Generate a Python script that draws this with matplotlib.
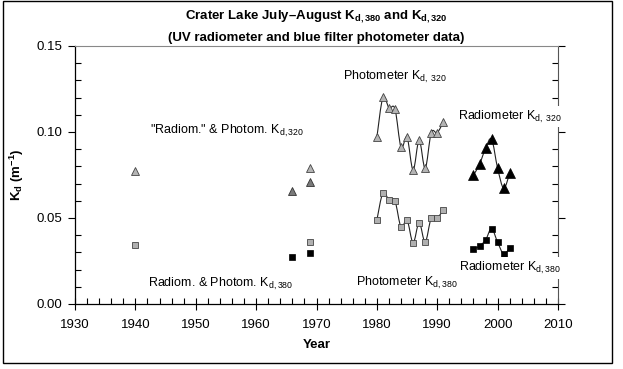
import matplotlib as mpl
mpl.use('Agg')
import matplotlib.pyplot as plt
import numpy as np
from matplotlib.path import Path
from matplotlib.patches import PathPatch, Rectangle
from matplotlib.ticker import MultipleLocator, FormatStrFormatter

plt.rcParams['font.family'] = ['Liberation Sans', 'DejaVu Sans']
plt.rcParams['mathtext.fontset'] = 'custom'
plt.rcParams['mathtext.rm'] = 'Liberation Sans'
plt.rcParams['mathtext.it'] = 'Liberation Sans:italic'
plt.rcParams['mathtext.bf'] = 'Liberation Sans:bold'

# early sparse measurements
early_phot_years = [1940, 1969]
early_phot_320 = [0.0775, 0.0789]
early_phot_380 = [0.0345, 0.0362]
early_rad_years = [1966, 1969]
early_rad_320 = [0.0659, 0.0708]
early_rad_380 = [0.0272, 0.0295]

# photometer series 1980-1991
phot_years = [1980, 1981, 1982, 1983, 1984, 1985, 1986, 1987, 1988, 1989, 1990, 1991]
phot_320 = [0.0969, 0.1202, 0.1141, 0.1134, 0.0911, 0.0969, 0.0779, 0.0953, 0.0789, 0.0996, 0.0996, 0.1058]
phot_380 = [0.0488, 0.0647, 0.0605, 0.0599, 0.0446, 0.0488, 0.0356, 0.0473, 0.0360, 0.0500, 0.0500, 0.0548]

# radiometer series 1996-2002
rad_years = [1996, 1997, 1998, 1999, 2000, 2001, 2002]
rad_320 = [0.0750, 0.0812, 0.0905, 0.0958, 0.0789, 0.0673, 0.0760]
rad_380 = [0.0318, 0.0337, 0.0372, 0.0438, 0.0359, 0.0291, 0.0327]


def smooth_path(xs, ys):
    # excel-like smoothed line (catmull-rom as cubic bezier)
    pts = np.column_stack([xs, ys]).astype(float)
    verts = [pts[0]]
    codes = [Path.MOVETO]
    for i in range(len(pts) - 1):
        p0 = pts[i - 1] if i > 0 else pts[i]
        p3 = pts[i + 2] if i + 2 < len(pts) else pts[i + 1]
        c1 = pts[i] + (pts[i + 1] - p0) / 6.0
        c2 = pts[i + 1] - (p3 - pts[i]) / 6.0
        verts += [c1, c2, pts[i + 1]]
        codes += [Path.CURVE4] * 3
    return Path(verts, codes)


fig = plt.figure(figsize=(6.23, 3.69), dpi=100)
ax = fig.add_axes([75/623, 1 - 304/369, (558-75)/623, (304-46)/369])

line_kw = dict(fill=False, lw=0.8, edgecolor='#222222', zorder=2)
for xs, ys in [(phot_years, phot_320), (phot_years, phot_380),
               (rad_years, rad_320), (rad_years, rad_380)]:
    ax.add_patch(PathPatch(smooth_path(xs, ys), **line_kw))

tri_light = dict(marker='^', ls='none', ms=6, mfc='#b4b4b4', mec='#444444', mew=0.6, zorder=3)
tri_dark = dict(marker='^', ls='none', ms=6, mfc='#7a7a7a', mec='#333333', mew=0.6, zorder=3)
tri_black = dict(marker='^', ls='none', ms=6.5, mfc='black', mec='black', mew=0.5, zorder=3)
sq_gray = dict(marker='s', ls='none', ms=5, mfc='#b0b0b0', mec='#444444', mew=0.6, zorder=3)
sq_black = dict(marker='s', ls='none', ms=4.5, mfc='black', mec='black', mew=0.5, zorder=3)

ax.plot(early_phot_years, early_phot_320, **tri_light)
ax.plot(early_rad_years, early_rad_320, **tri_dark)
ax.plot(early_phot_years, early_phot_380, **sq_gray)
ax.plot(early_rad_years, early_rad_380, **sq_black)
ax.plot(phot_years, phot_320, **tri_light)
ax.plot(phot_years, phot_380, **sq_gray)
ax.plot(rad_years, rad_320, **tri_black)
ax.plot(rad_years, rad_380, **sq_black)

ax.set_xlim(1930, 2010)
ax.set_ylim(0, 0.15)
ax.xaxis.set_major_locator(MultipleLocator(10))
ax.xaxis.set_minor_locator(MultipleLocator(2))
ax.yaxis.set_major_locator(MultipleLocator(0.05))
ax.yaxis.set_minor_locator(MultipleLocator(0.01))
ax.yaxis.set_major_formatter(FormatStrFormatter('%.2f'))

ax.tick_params(axis='x', which='major', direction='inout', length=9, width=0.8, labelsize=9.5, pad=6)
ax.tick_params(axis='x', which='minor', direction='in', length=4, width=0.8)
ax.tick_params(axis='y', which='major', direction='out', length=5, width=0.8, labelsize=9.5,
               right=True, pad=4)
ax.tick_params(axis='y', which='minor', direction='in', length=4, width=0.8, right=True)

ax.spines['top'].set_color('#888888')
ax.spines['right'].set_color('#555555')
for s in ['left', 'bottom']:
    ax.spines[s].set_linewidth(0.9)

sub = dict(fontsize=9, zorder=5)
ax.text(1974.4, 0.132, r'Photometer K$\mathregular{_{d,\ 320}}$', va='center', **sub)
ax.text(1942.4, 0.1006, r'"Radiom." & Photom. K$\mathregular{_{d,320}}$', va='center', **sub)
ax.text(1942.1, 0.0116, r'Radiom. & Photom. K$\mathregular{_{d,380}}$', va='center', **sub)
ax.text(1976.5, 0.0122, r'Photometer K$\mathregular{_{d,380}}$', va='center', **sub)
ax.text(1993.4, 0.109, r'Radiometer K$\mathregular{_{d,\ 320}}$', va='center', clip_on=False,
        bbox=dict(facecolor='white', edgecolor='none', pad=2), **sub)
ax.text(1993.6, 0.021, r'Radiometer K$\mathregular{_{d,380}}$', va='center', clip_on=False,
        bbox=dict(facecolor='white', edgecolor='none', pad=2), **sub)

ax.set_xlabel('Year', fontsize=9.5, fontweight='bold', labelpad=6)
ax.set_ylabel(r'$\mathbf{K_{\mathregular{d}}}$ (m$^{\mathbf{-1}}$)', fontsize=9.5,
              fontweight='bold', labelpad=8)

cx = (75 + 558) / 2 / 623
fig.text(cx, 1 - 17/369, r'Crater Lake July–August K$\mathregular{_{d,380}}$ and K$\mathregular{_{d,320}}$',
         ha='center', va='center', fontsize=9.5, fontweight='bold')
fig.text(cx, 1 - 38/369, '(UV radiometer and blue filter photometer data)',
         ha='center', va='center', fontsize=9.5, fontweight='bold')

fig.patches.append(Rectangle((3/623, 6/369), 609/623, 362/369, transform=fig.transFigure,
                             fill=False, edgecolor='black', lw=1.0))

fig.savefig('out.png', dpi=100)
